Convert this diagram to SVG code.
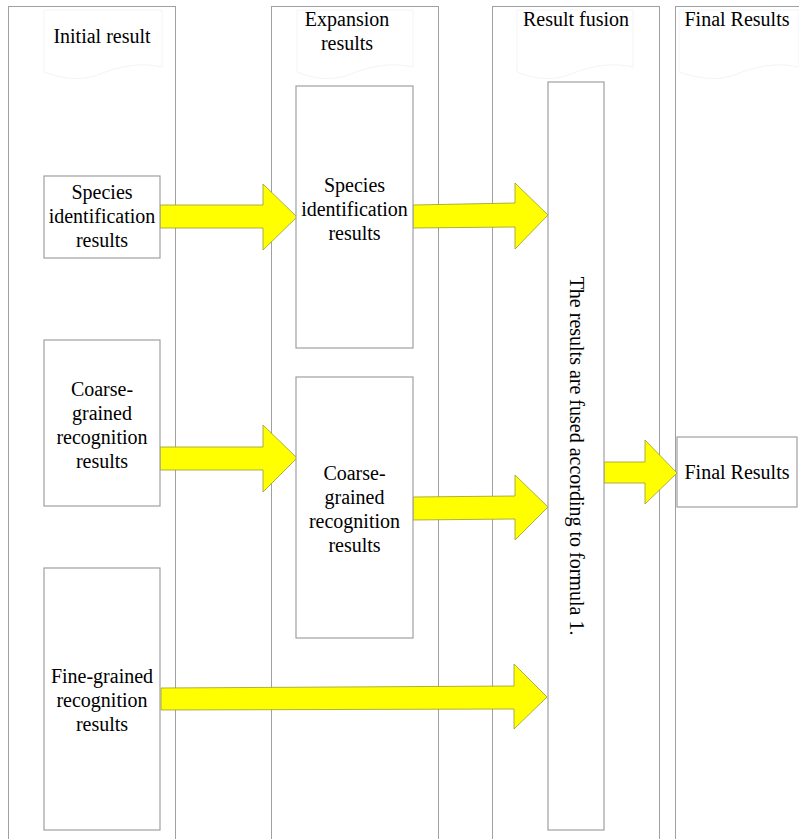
<svg xmlns="http://www.w3.org/2000/svg" width="799" height="839" viewBox="0 0 799 839">
<style>
.lane{fill:#fff;stroke:#a0a0a0;stroke-width:1}
.hdr{fill:none;stroke:#f4f4f4;stroke-width:1}
.box{fill:#fff;stroke:#a0a0a0;stroke-width:1.2}
.arr{fill:#ffff00;stroke:#9a9a30;stroke-width:0.8}
text{font-family:"Liberation Serif","Times New Roman",serif;font-size:20px;fill:#000;text-anchor:middle}
</style>
<rect width="799" height="839" fill="#fff"/>
<g id="lane-initial">
<rect class="lane" x="8.5" y="6.5" width="167" height="840"/>
<path class="hdr" d="M44,10 H162 V67 C140,62 120,66 100,74 C80,82 60,78 44,72 Z"/>
<text x="102" y="43">Initial result</text>
</g>
<g id="lane-expansion">
<rect class="lane" x="271.5" y="6.5" width="167" height="840"/>
<path class="hdr" d="M297,10 H413 V67 C391,62 371,66 351,74 C331,82 311,78 297,72 Z"/>
<text x="347" y="26">Expansion</text>
<text x="347" y="50">results</text>
</g>
<g id="lane-fusion">
<rect class="lane" x="492.5" y="6.5" width="167" height="840"/>
<path class="hdr" d="M517,10 H633 V67 C611,62 591,66 571,74 C551,82 531,78 517,72 Z"/>
<text x="576" y="26">Result fusion</text>
</g>
<g id="lane-final">
<rect class="lane" x="675.5" y="6.5" width="140" height="840"/>
<path class="hdr" d="M679,10 H799 V67 C777,62 757,66 737,74 C717,82 697,78 679,72 Z"/>
<text x="737" y="26">Final Results</text>
</g>
<g id="connectors">
<path class="arr" d="M160,205 H263 V184 L297,217 L263,250 V228 H160 Z"/>
<path class="arr" d="M413,205 L515,203 V183 L548,215 L515,249 V227 L413,228 Z"/>
<path class="arr" d="M160,447 H263 V425 L297,458 L263,492 V470 H160 Z"/>
<path class="arr" d="M413,497 L515,496 V475 L548,507 L515,540 V519 L413,520 Z"/>
<path class="arr" d="M161,688 L514,686 V664 L547,697 L514,729 V709 L161,710 Z"/>
<path class="arr" d="M604,462 H645 V440 L677,473 L645,504 V483 H604 Z"/>
</g>
<g id="node-initial-species">
<rect class="box" x="44" y="176" width="116" height="82"/>
<text x="102" y="199">Species</text>
<text x="102" y="223">identification</text>
<text x="102" y="247">results</text>
</g>
<g id="node-initial-coarse">
<rect class="box" x="44" y="340" width="116" height="166"/>
<text x="102" y="396">Coarse-</text>
<text x="102" y="420">grained</text>
<text x="102" y="444">recognition</text>
<text x="102" y="468">results</text>
</g>
<g id="node-initial-fine">
<rect class="box" x="44" y="568" width="116" height="262"/>
<text x="102" y="683">Fine-grained</text>
<text x="102" y="707">recognition</text>
<text x="102" y="731">results</text>
</g>
<g id="node-expansion-species">
<rect class="box" x="296" y="86" width="117" height="262"/>
<text x="354.5" y="192">Species</text>
<text x="354.5" y="216">identification</text>
<text x="354.5" y="240">results</text>
</g>
<g id="node-expansion-coarse">
<rect class="box" x="296" y="377" width="117" height="261"/>
<text x="354.5" y="480">Coarse-</text>
<text x="354.5" y="504">grained</text>
<text x="354.5" y="528">recognition</text>
<text x="354.5" y="552">results</text>
</g>
<g id="node-fusion">
<rect class="box" x="548" y="82" width="56" height="748"/>
<text transform="translate(570,456) rotate(90)" x="0" y="0">The results are fused according to formula 1.</text>
</g>
<g id="node-final">
<rect class="box" x="677" y="437" width="120" height="70"/>
<text x="737" y="479">Final Results</text>
</g>
</svg>
